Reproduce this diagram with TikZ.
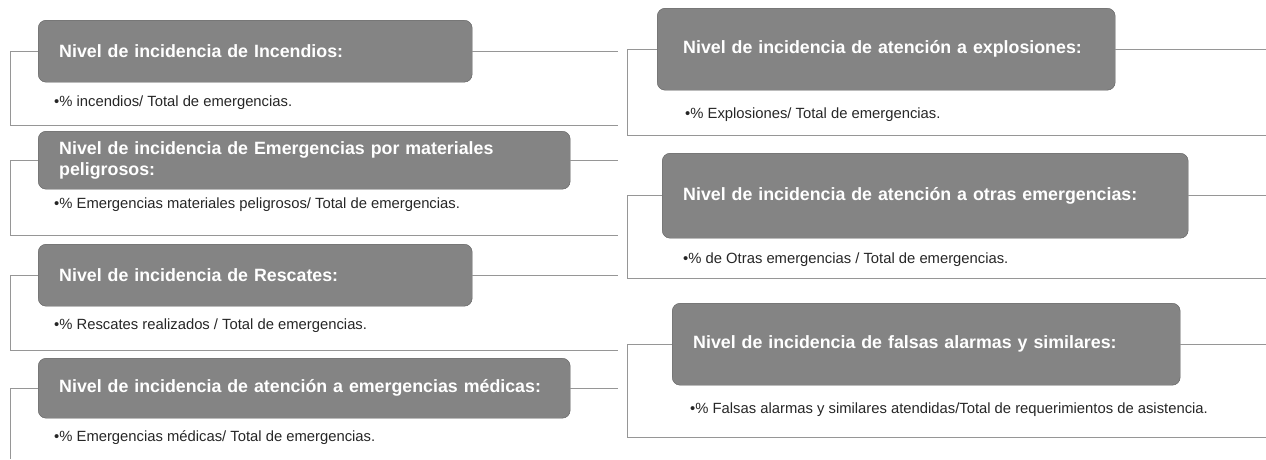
\documentclass[tikz,border=0pt]{standalone}
\usepackage{fontspec}
\setmainfont{Liberation Sans}
\definecolor{cajagris}{RGB}{132,132,132}
\definecolor{bordegris}{RGB}{96,96,96}
\definecolor{lineagris}{RGB}{150,150,150}
\begin{document}
\begin{tikzpicture}[x=1pt, y=-1pt,
    caja/.style={draw=bordegris, fill=cajagris, rounded corners=8pt, text=white,
      font=\bfseries\fontsize{17.8}{20.5}\selectfont, align=left,
      inner xsep=21pt, inner ysep=0pt, anchor=north west},
    vineta/.style={anchor=west, inner sep=0pt, text=black!85,
      font=\fontsize{14.8}{17}\selectfont},
    linea/.style={draw=lineagris, line width=0.6pt}]
  \useasboundingbox (0,0) rectangle (1266,459);
  % left column
  \coordinate (izq) at (10,0);
  \coordinate (der) at (618,0);
  \node[caja, text width=392pt, minimum height=62pt] (b1) at (38,20) {Nivel de incidencia de Incendios:};
  \node[vineta] (t1) at (54,103) {•\% incendios/ Total de emergencias.};
  \coordinate (s1) at (618,125);
  \draw[linea] (b1.west) -- (b1.west -| izq) |- (s1);
  \draw[linea] (b1.east) -- (b1.east -| der);
  \node[caja, text width=490pt, minimum height=58pt] (b2) at (38,131) {Nivel de incidencia de Emergencias por materiales\\peligrosos:};
  \node[vineta] (t2) at (54,205) {•\% Emergencias materiales peligrosos/ Total de emergencias.};
  \coordinate (s2) at (618,235);
  \draw[linea] (b2.west) -- (b2.west -| izq) |- (s2);
  \draw[linea] (b2.east) -- (b2.east -| der);
  \node[caja, text width=392pt, minimum height=62pt] (b3) at (38,244) {Nivel de incidencia de Rescates:};
  \node[vineta] (t3) at (54,326) {•\% Rescates realizados / Total de emergencias.};
  \coordinate (s3) at (618,350);
  \draw[linea] (b3.west) -- (b3.west -| izq) |- (s3);
  \draw[linea] (b3.east) -- (b3.east -| der);
  \node[caja, text width=490pt, minimum height=60pt] (b4) at (38,358) {Nivel de incidencia de atención a emergencias médicas:};
  \node[vineta] (t4) at (54,438) {•\% Emergencias médicas/ Total de emergencias.};
  \coordinate (s4) at (10,459);
  \draw[linea] (b4.west) -- (b4.west -| izq) -- (s4);
  \draw[linea] (b4.east) -- (b4.east -| der);
  % right column
  \coordinate (izq2) at (627,0);
  \coordinate (der2) at (1266,0);
  \node[caja, text width=406pt, minimum height=82pt, inner xsep=26pt] (b5) at (657,8) {Nivel de incidencia de atención a explosiones:};
  \node[vineta] (t5) at (685,115) {•\% Explosiones/ Total de emergencias.};
  \coordinate (s5) at (1266,135);
  \draw[linea] (b5.west) -- (b5.west -| izq2) |- (s5);
  \draw[linea] (b5.east) -- (b5.east -| der2);
  \node[caja, text width=484pt, minimum height=85pt] (b6) at (662,153) {Nivel de incidencia de atención a otras emergencias:};
  \node[vineta] (t6) at (683,260) {•\% de Otras emergencias / Total de emergencias.};
  \coordinate (s6) at (1266,278);
  \draw[linea] (b6.west) -- (b6.west -| izq2) |- (s6);
  \draw[linea] (b6.east) -- (b6.east -| der2);
  \node[caja, text width=466pt, minimum height=82pt] (b7) at (672,303) {Nivel de incidencia de falsas alarmas y similares:};
  \node[vineta] (t7) at (690,410) {•\% Falsas alarmas y similares atendidas/Total de requerimientos de asistencia.};
  \coordinate (s7) at (1266,437);
  \draw[linea] (b7.west) -- (b7.west -| izq2) |- (s7);
  \draw[linea] (b7.east) -- (b7.east -| der2);
\end{tikzpicture}
\end{document}
